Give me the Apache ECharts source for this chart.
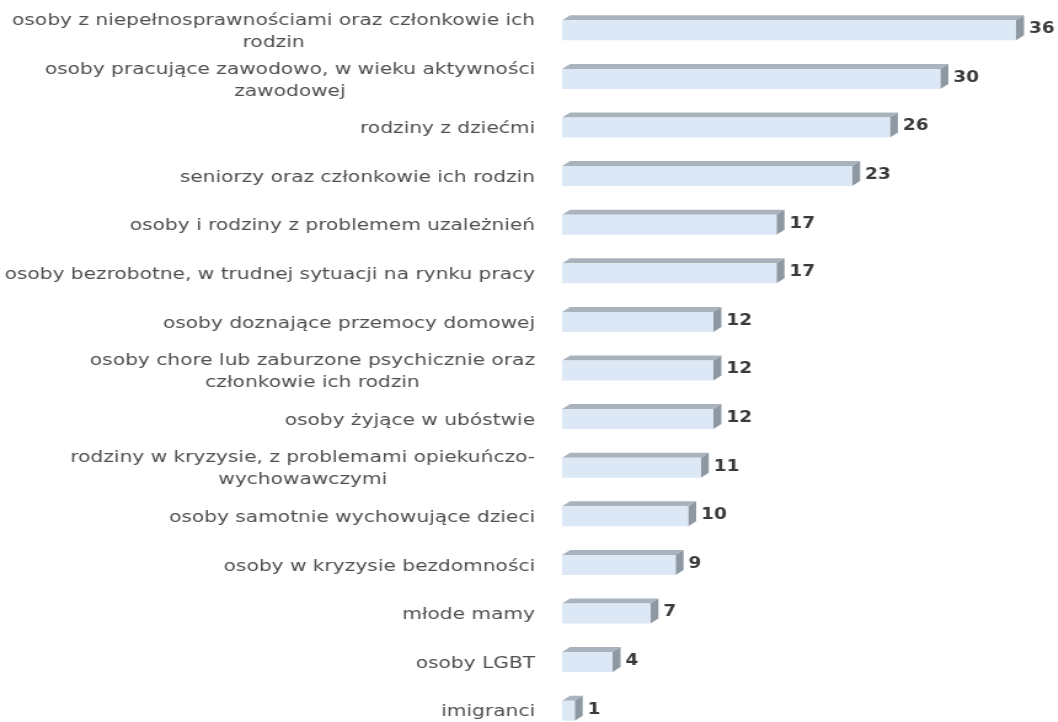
<!DOCTYPE html>
<html>
<head>
<meta charset="utf-8">
<script src="https://cdn.jsdelivr.net/npm/echarts@6/dist/echarts.min.js"></script>
<style>
  html, body { margin: 0; padding: 0; background: #fff; overflow: hidden; }
  /* oryginał jest rozciągnięty w poziomie */
  #chart { width: 860px; height: 722px; transform: scaleX(1.23); transform-origin: 0 0; }
</style>
</head>
<body>
<div id="chart"></div>
<script>
// kategorie (od góry)
var categories = [
    'osoby z niepełnosprawnościami oraz członkowie ich\nrodzin',
    'osoby pracujące zawodowo, w wieku aktywności\nzawodowej',
    'rodziny z dziećmi',
    'seniorzy oraz członkowie ich rodzin',
    'osoby i rodziny z problemem uzależnień',
    'osoby bezrobotne, w trudnej sytuacji na rynku pracy',
    'osoby doznające przemocy domowej',
    'osoby chore lub zaburzone psychicznie oraz\nczłonkowie ich rodzin',
    'osoby żyjące w ubóstwie',
    'rodziny w kryzysie, z problemami opiekuńczo-\nwychowawczymi',
    'osoby samotnie wychowujące dzieci',
    'osoby w kryzysie bezdomności',
    'młode mamy',
    'osoby LGBT',
    'imigranci'
];
var values = [36, 30, 26, 23, 17, 17, 12, 12, 12, 11, 10, 9, 7, 4, 1];

var chart = echarts.init(document.getElementById('chart'));

function renderBar(params, api) {
    var v = api.value(0);
    var idx = api.value(1);
    var start = api.coord([0, idx]);
    var end = api.coord([v, idx]);
    var h = 20, d = 6.5, dy = 5;
    var x0 = start[0], x1 = end[0];
    var top = start[1] - h / 2 + 1, bot = top + h;
    return {
        type: 'group',
        children: [
            { type: 'polygon', shape: { points: [[x0, top], [x0 + d, top - dy], [x1 + d, top - dy], [x1, top]] },
              style: { fill: '#a9b3bd' } },
            { type: 'polygon', shape: { points: [[x1, top], [x1 + d, top - dy], [x1 + d, bot - dy], [x1, bot]] },
              style: { fill: '#8d98a2' } },
            { type: 'rect', shape: { x: x0, y: top, width: x1 - x0, height: h },
              style: { fill: '#dce8f5' } },
            { type: 'text', x: x1 + d + 4, y: top + h / 2 - 1,
              style: { text: String(v), fill: '#3a3a3a', font: 'bold 15px "DejaVu Sans"',
                       verticalAlign: 'middle', align: 'left' } }
        ]
    };
}

chart.setOption({
    animation: false,
    grid: { left: 457, top: 5, width: 369, height: 729, outerBoundsMode: 'none' },
    xAxis: {
        type: 'value', min: 0, max: 36, show: false
    },
    yAxis: {
        type: 'category',
        inverse: true,
        data: categories,
        axisLine: { show: false },
        axisTick: { show: false },
        axisLabel: {
            interval: 0,
            showMinLabel: true,
            showMaxLabel: true,
            hideOverlap: false,
            margin: 22,
            color: '#4f4f4f',
            fontFamily: 'DejaVu Sans',
            fontSize: 16.4,
            lineHeight: 22,
            padding: [5, 0, 0, 0],
            formatter: function (s) {
                return s.split('\n').map(function (l) { return '{c|' + l + '}'; }).join('\n');
            },
            rich: {
                c: { align: 'center', color: '#4f4f4f', fontFamily: 'DejaVu Sans', fontSize: 16.4, lineHeight: 22 }
            }
        }
    },
    series: [{
        type: 'custom',
        renderItem: renderBar,
        encode: { x: 0, y: 1 },
        data: values.map(function (v, i) { return [v, i]; })
    }]
});
</script>
</body>
</html>
